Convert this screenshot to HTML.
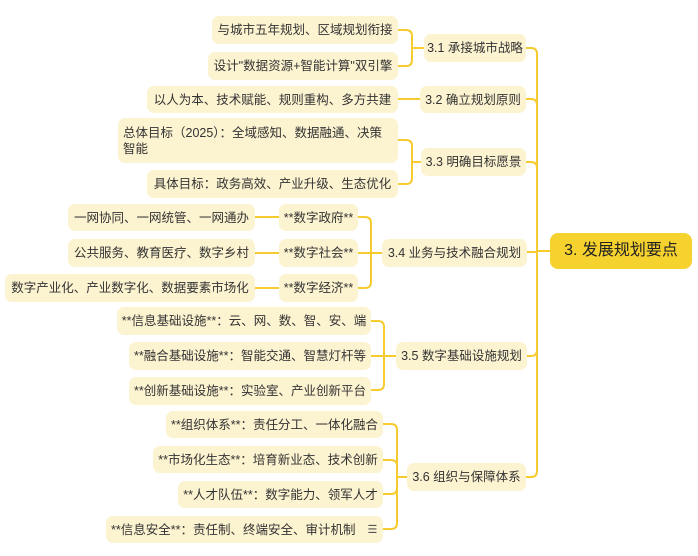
<!DOCTYPE html>
<html><head><meta charset="utf-8"><style>
body{margin:0;width:698px;height:556px;background:#fff;overflow:hidden;position:relative;font-family:"Liberation Sans","Noto Sans CJK SC",sans-serif;}
.n{position:absolute;background:#FCF3D0;border-radius:7px;color:#333;font-size:12.5px;display:flex;align-items:center;justify-content:center;box-sizing:border-box;padding:0 5px;white-space:nowrap;line-height:16px}
.r{background:#F6D22E;color:#222;font-size:16px;border-radius:8px}
svg{position:absolute;left:0;top:0}
</style></head><body>
<svg width="698" height="556" fill="none" stroke="#F5CB2F" stroke-width="2">
<path d="M551 251 H537"/>
<path d="M537 251 V54 Q537 48 531 48 H526"/>
<path d="M537 251 V105 Q537 99 531 99 H526"/>
<path d="M537 251 V168 Q537 162 531 162 H526"/>
<path d="M537 251 V471 Q537 477 531 477 H526"/>
<path d="M537 251 V350 Q537 356 531 356 H526"/>
<path d="M537 252 H527"/>
<path d="M424 48 H412 V36 Q412 30 406 30 H398"/>
<path d="M412 48 V60 Q412 66 406 66 H398"/>
<path d="M420 99 H398"/>
<path d="M421 162 H412 V146 Q412 140 406 140 H398"/>
<path d="M412 162 V178 Q412 184 406 184 H398"/>
<path d="M382 253 H358"/>
<path d="M371 253 V223 Q371 217 365 217 H358"/>
<path d="M371 253 V282 Q371 288 365 288 H358"/>
<path d="M279 217 H255"/><path d="M279 253 H255"/><path d="M279 288 H255"/>
<path d="M396 356 H371"/>
<path d="M384 356 V327 Q384 321 378 321 H371"/>
<path d="M384 356 V384 Q384 390 378 390 H371"/>
<path d="M407 477 H397 V430 Q397 424 391 424 H383"/>
<path d="M397 477 V466 Q397 460 391 460 H383"/>
<path d="M397 477 V488 Q397 494 391 494 H383"/>
<path d="M397 477 V523 Q397 529 391 529 H383"/>
</svg>
<div class="n r" style="left:550px;top:233px;width:142px;height:36px">3. 发展规划要点</div>

<div class="n" style="left:424px;top:34px;width:102px;height:28px">3.1 承接城市战略</div>
<div class="n" style="left:212px;top:16px;width:186px;height:28px">与城市五年规划、区域规划衔接</div>
<div class="n" style="left:208px;top:52px;width:190px;height:28px">设计"数据资源+智能计算"双引擎</div>

<div class="n" style="left:420px;top:86px;width:106px;height:27px">3.2 确立规划原则</div>
<div class="n" style="left:147px;top:86px;width:251px;height:27px">以人为本、技术赋能、规则重构、多方共建</div>

<div class="n" style="left:421px;top:148px;width:105px;height:28px">3.3 明确目标愿景</div>
<div class="n" style="left:118px;top:118px;width:280px;height:45px;justify-content:flex-start;white-space:normal">总体目标（2025）：全域感知、数据融通、决策智能</div>
<div class="n" style="left:147px;top:170px;width:251px;height:28px">具体目标：政务高效、产业升级、生态优化</div>

<div class="n" style="left:382px;top:239px;width:145px;height:28px">3.4 业务与技术融合规划</div>
<div class="n" style="left:279px;top:204px;width:79px;height:27px">**数字政府**</div>
<div class="n" style="left:279px;top:239px;width:79px;height:28px">**数字社会**</div>
<div class="n" style="left:279px;top:274px;width:79px;height:28px">**数字经济**</div>
<div class="n" style="left:68px;top:204px;width:187px;height:27px">一网协同、一网统管、一网通办</div>
<div class="n" style="left:68px;top:239px;width:187px;height:28px">公共服务、教育医疗、数字乡村</div>
<div class="n" style="left:5px;top:274px;width:250px;height:28px">数字产业化、产业数字化、数据要素市场化</div>

<div class="n" style="left:396px;top:342px;width:131px;height:28px">3.5 数字基础设施规划</div>
<div class="n" style="left:117px;top:307px;width:254px;height:28px">**信息基础设施**：云、网、数、智、安、端</div>
<div class="n" style="left:129px;top:342px;width:242px;height:28px">**融合基础设施**：智能交通、智慧灯杆等</div>
<div class="n" style="left:129px;top:377px;width:242px;height:28px">**创新基础设施**：实验室、产业创新平台</div>

<div class="n" style="left:407px;top:463px;width:119px;height:28px">3.6 组织与保障体系</div>
<div class="n" style="left:166px;top:411px;width:217px;height:27px">**组织体系**：责任分工、一体化融合</div>
<div class="n" style="left:153px;top:446px;width:230px;height:27px">**市场化生态**：培育新业态、技术创新</div>
<div class="n" style="left:178px;top:481px;width:205px;height:27px">**人才队伍**：数字能力、领军人才</div>
<div class="n" style="left:106px;top:516px;width:277px;height:27px;justify-content:flex-start">**信息安全**：责任制、终端安全、审计机制<span style="margin-left:12px;font-size:11px;color:#555">☰</span></div>
</body></html>
